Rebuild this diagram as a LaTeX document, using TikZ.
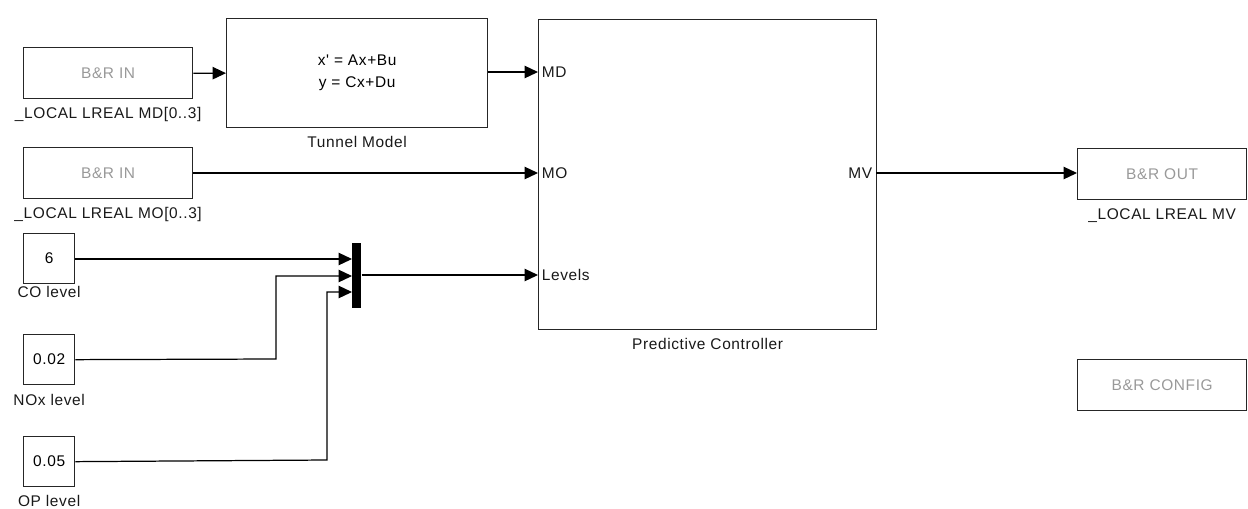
\documentclass[tikz,border=0pt]{standalone}
\usepackage{fontspec}
\setmainfont{Liberation Sans}[Ligatures=TeXOff, LetterSpace=4]
\usetikzlibrary{arrows.meta, positioning}

\begin{document}
\begin{tikzpicture}[
    x=0.02cm, y=-0.02cm,
    font=\fontsize{8.8}{10.5}\selectfont,
    block/.style={rectangle, draw=black!85, line width=0.75pt, inner sep=0pt, anchor=north west},
    brbox/.style={block, minimum width=3.38cm, minimum height=1.02cm, text=black!40},
    constbox/.style={block, minimum width=1.02cm, minimum height=1.0cm},
    caption/.style={inner sep=0pt, text=black!90},
    portlbl/.style={inner sep=0pt, text=black!90},
    sig/.style={line width=0.7pt, -{Triangle[length=0.27cm, width=0.25cm]}}
]
\useasboundingbox (0,0) rectangle (1248,508);

% inputs from the PLC
\node[brbox] (inmd) at (23,47) {B\&R IN};
\node[caption, below=4.5pt of inmd] (inmdlbl) {\_LOCAL LREAL MD[0..3]};
\node[brbox] (inmo) at (23,147) {B\&R IN};
\node[caption, below=4.5pt of inmo] (inmolbl) {\_LOCAL LREAL MO[0..3]};

% plant model
\node[block, minimum width=5.22cm, minimum height=2.18cm, align=center,
      font=\fontsize{8.8}{12.5}\selectfont] (tunnel) at (226,18) {x' = Ax+Bu\\y = Cx+Du};
\node[caption, below=4.5pt of tunnel] (tunnellbl) {Tunnel Model};

% controller
\node[block, minimum width=6.76cm, minimum height=6.2cm] (ctrl) at (538,19) {};
\node[caption, below=4.5pt of ctrl] (ctrllbl) {Predictive Controller};
\coordinate (portmd) at (538,72);
\coordinate (portmo) at (538,173);
\coordinate (portlv) at (538,275);
\coordinate (portmv) at (876,173);
\node[portlbl, anchor=west] (lblmd) at ([xshift=2pt]portmd) {MD};
\node[portlbl, anchor=west] (lblmo) at ([xshift=2pt]portmo) {MO};
\node[portlbl, anchor=west] (lbllv) at ([xshift=2pt]portlv) {Levels};
\node[portlbl, anchor=east] (lblmv) at ([xshift=-2pt]portmv) {MV};

% output and config
\node[brbox] (brout) at (1077,148) {B\&R OUT};
\node[caption, below=4.5pt of brout] (broutlbl) {\_LOCAL LREAL MV};
\node[brbox] (brcfg) at (1077,359) {B\&R CONFIG};

% level constants
\node[constbox] (co) at (23,233) {6};
\node[caption, below=1pt of co] (colbl) {CO level};
\node[constbox] (nox) at (23,334) {0.02};
\node[caption, below=5pt of nox] (noxlbl) {NOx level};
\node[constbox] (op) at (23,436) {0.05};
\node[caption, below=4.5pt of op] (oplbl) {OP level};

% mux
\node[rectangle, fill=black, inner sep=0pt, minimum width=0.18cm, minimum height=1.3cm, anchor=north west] (mux) at (352,243) {};
\coordinate (muxin1) at (352,259);
\coordinate (muxin2) at (352,276);
\coordinate (muxin3) at (352,292);

% signals
\draw[sig] (inmd) -- (tunnel);
\draw[sig] (tunnel.east |- portmd) -- (portmd);
\draw[sig] (inmo.east |- portmo) -- (portmo);
\draw[sig] (portmv) -- (brout.west |- portmv);
\draw[sig] (co.east |- muxin1) -- (muxin1);
\draw[sig] (nox.east) -- (276,359) |- (muxin2);
\draw[sig] (op.east) -- (327,460) |- (muxin3);
\draw[sig] (mux.east |- portlv) -- (portlv);
\end{tikzpicture}
\end{document}
